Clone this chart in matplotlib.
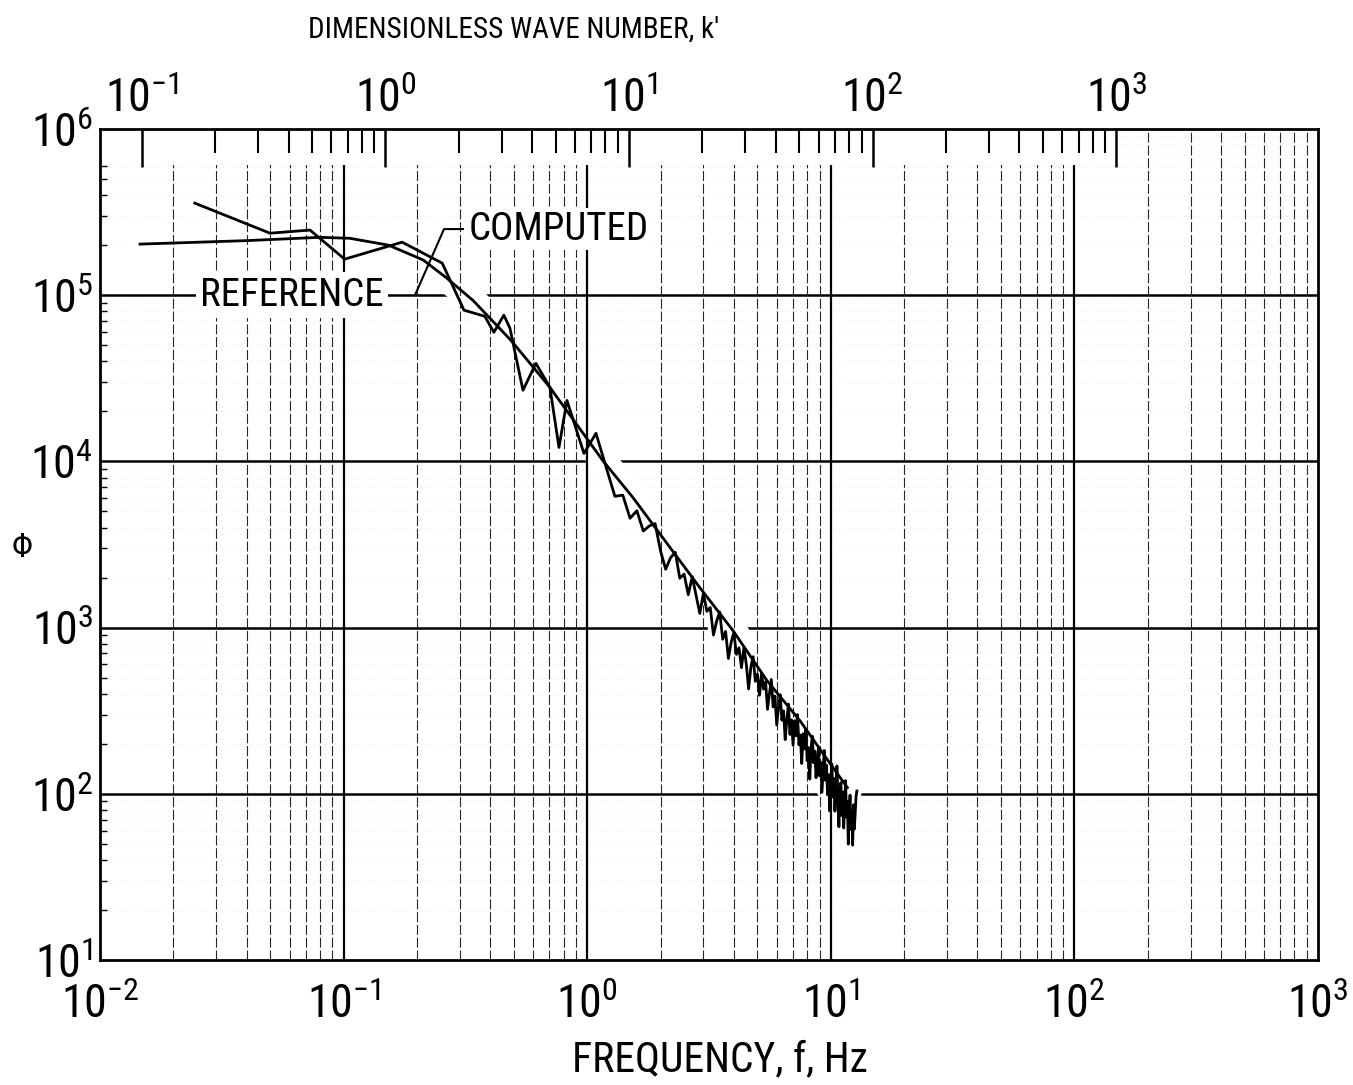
import numpy as np
import matplotlib
matplotlib.use("Agg")
import matplotlib.pyplot as plt
import matplotlib.transforms as mtransforms
from matplotlib.patches import Rectangle
from matplotlib.ticker import FixedLocator, LogFormatterMathtext, NullFormatter

plt.rcParams['font.family'] = ['Roboto Condensed', 'Roboto', 'DejaVu Sans']
plt.rcParams['mathtext.fontset'] = 'custom'
plt.rcParams['mathtext.rm'] = 'Roboto Condensed'
plt.rcParams['mathtext.it'] = 'Roboto Condensed:italic'
plt.rcParams['mathtext.bf'] = 'Roboto Condensed:bold'

# reference spectrum (smooth curve), f in Hz
ref_f = [0.0146, 0.04, 0.080, 0.106, 0.153, 0.212, 0.263, 0.340, 0.486,
         0.703, 1.16, 1.54, 2.90, 3.97, 5.47, 7.48, 10.2, 11.7]
ref_phi = [2.03e5, 2.13e5, 2.23e5, 2.20e5, 2.0e5, 1.63e5, 1.28e5, 9.3e4, 5.36e4,
           2.79e4, 1.01e4, 6.07e3, 1.74e3, 959, 480, 275, 144, 109]

# computed spectrum (noisy curve), frequencies and log10(phi)
comp_f = [0.0245, 0.0499, 0.0728, 0.101, 0.174, 0.254, 0.312, 0.380, 0.414,
          0.455, 0.482, 0.545, 0.616, 0.703, 0.766, 0.826, 0.970, 1.087,
          1.2, 1.3, 1.4, 1.5, 1.6, 1.7, 1.8, 1.9, 2.0, 2.1,
          2.2, 2.3, 2.4, 2.5, 2.6, 2.7, 2.8, 2.9, 3.0, 3.1,
          3.2, 3.3, 3.4, 3.5, 3.6, 3.7, 3.8, 3.9, 4.0, 4.1,
          4.2, 4.3, 4.4, 4.5, 4.6, 4.7, 4.8, 4.9, 5.0, 5.1,
          5.2, 5.3, 5.4, 5.5, 5.6, 5.7, 5.8, 5.9, 6.0, 6.1,
          6.2, 6.3, 6.4, 6.5, 6.6, 6.7, 6.8, 6.9, 7.0, 7.1,
          7.2, 7.3, 7.4, 7.5, 7.6, 7.7, 7.8, 7.9, 8.0, 8.1,
          8.2, 8.3, 8.4, 8.5, 8.6, 8.7, 8.8, 8.9, 9.0, 9.1,
          9.2, 9.3, 9.4, 9.5, 9.6, 9.7, 9.8, 9.9, 10.0, 10.1,
          10.2, 10.3, 10.4, 10.5, 10.6, 10.7, 10.8, 10.9, 11.0, 11.1,
          11.2, 11.3, 11.4, 11.5, 11.6, 11.7, 11.8, 11.9, 12.0, 12.1,
          12.2, 12.3, 12.4, 12.5, 12.6, 12.7, 12.8]
comp_log_phi = [5.554, 5.373, 5.392, 5.217, 5.319, 5.193, 4.910, 4.873, 4.777,
                4.880, 4.801, 4.428, 4.590, 4.446, 4.084, 4.367, 4.048, 4.169,
                3.958, 3.790, 3.797, 3.658, 3.703, 3.581, 3.612, 3.626, 3.462, 3.351,
                3.421, 3.453, 3.297, 3.322, 3.198, 3.306, 3.195, 3.085, 3.206, 3.098,
                3.121, 2.955, 3.039, 3.094, 2.930, 2.977, 2.814, 2.912, 2.970, 2.839,
                2.879, 2.759, 2.879, 2.780, 2.631, 2.763, 2.825, 2.677, 2.720, 2.593,
                2.726, 2.630, 2.674, 2.508, 2.603, 2.688, 2.523, 2.588, 2.414, 2.520,
                2.596, 2.443, 2.499, 2.326, 2.443, 2.540, 2.357, 2.445, 2.293, 2.440,
                2.349, 2.477, 2.295, 2.354, 2.182, 2.361, 2.270, 2.389, 2.199, 2.278,
                2.088, 2.277, 2.347, 2.187, 2.257, 2.097, 2.197, 2.278, 2.108, 2.189,
                2.009, 2.140, 2.261, 2.082, 2.173, 1.994, 2.115, 1.897, 2.068, 2.180,
                1.981, 2.093, 1.895, 2.046, 2.168, 1.970, 1.802, 2.005, 2.067, 1.869,
                2.011, 1.794, 1.946, 2.079, 1.861, 1.954, 1.697, 1.900, 1.992, 1.785,
                1.898, 1.691, 1.934, 1.788, 1.891, 1.984, 2.017]
comp_phi = 10.0 ** np.array(comp_log_phi)

# wave number scale: k' = K * f
K = 10 ** 0.828
k_major = [1e-1, 1e0, 1e1, 1e2, 1e3]
k_minor = [m * 10.0 ** n for n in range(-1, 3) for m in range(2, 10)]

fig = plt.figure(figsize=(13.53, 10.85), dpi=100)
ax = fig.add_axes([0.0739, 0.1152, 0.9002, 0.7659])
ax.set_xscale('log')
ax.set_yscale('log')
ax.set_xlim(1e-2, 1e3)
ax.set_ylim(1e1, 1e6)

# horizontal grid
for n in range(2, 6):
    ax.axhline(10.0 ** n, color='k', lw=1.8, zorder=1)
for n in range(1, 6):
    for m in range(2, 10):
        ax.axhline(m * 10.0 ** n, color='0.8', lw=0.5, ls=(0, (1, 6)), zorder=1)

# white halo: grid is broken where the curves cross it
ax.plot(ref_f, ref_phi, color='white', lw=20, solid_capstyle='round', zorder=1.5)
ax.plot(comp_f, comp_phi, color='white', lw=7, zorder=1.5)

# vertical grid
for n in range(-1, 3):
    ax.axvline(10.0 ** n, color='k', lw=1.6, zorder=2)
for n in range(-2, 3):
    for m in range(2, 10):
        ax.axvline(m * 10.0 ** n, color='0.15', lw=0.8, ls=(0, (9, 2.5)), zorder=2)

# blank strip under the k' scale
trans = mtransforms.blended_transform_factory(ax.transData, ax.transAxes)
strip_h = 36 / 831
ax.add_patch(Rectangle((1e-2, 1 - strip_h), 1e3 / K * 1.03 - 1e-2, strip_h,
                       transform=trans, fc='white', ec='none', zorder=2.5))

ax.plot(ref_f, ref_phi, color='k', lw=2.0, zorder=3)
ax.plot(comp_f, comp_phi, color='k', lw=2.0, zorder=3)

ax.text(0.0614, 1e5, 'REFERENCE', fontsize=28, ha='center', va='center',
        bbox=dict(fc='white', ec='none', pad=3), zorder=4)
ax.text(0.327, 2.5e5, 'COMPUTED', fontsize=28, ha='left', va='center',
        bbox=dict(fc='white', ec='none', pad=2), zorder=4)
ax.plot([0.1964, 0.2584, 0.309], [1e5, 2.5e5, 2.5e5], color='k', lw=1.5, zorder=4)

for s in ax.spines.values():
    s.set_linewidth(2)
    s.set_zorder(5)

ax.xaxis.set_major_formatter(LogFormatterMathtext())
ax.yaxis.set_major_formatter(LogFormatterMathtext())
ax.xaxis.set_minor_formatter(NullFormatter())
ax.yaxis.set_minor_formatter(NullFormatter())
ax.tick_params(axis='x', which='both', length=0, labelsize=33, pad=16)
ax.tick_params(axis='y', which='major', length=0, labelsize=33, pad=5)
ax.tick_params(axis='y', which='minor', direction='in', length=5, width=1)

secax = ax.secondary_xaxis('top', functions=(lambda f: f * K, lambda k: k / K))
secax.set_zorder(6)
secax.patch.set_visible(False)
secax.xaxis.set_major_locator(FixedLocator(k_major))
secax.xaxis.set_minor_locator(FixedLocator(k_minor))
secax.xaxis.set_major_formatter(LogFormatterMathtext())
secax.xaxis.set_minor_formatter(NullFormatter())
secax.tick_params(which='major', direction='in', length=27, width=1.8,
                  labelsize=33, pad=6)
secax.tick_params(which='minor', direction='in', length=17, width=1.5)
secax.spines['top'].set_visible(False)

fig.text(514 / 1353, 1 - 30 / 1085, "DIMENSIONLESS WAVE NUMBER, k'",
         fontsize=21, ha='center', va='center')
fig.text(720 / 1353, 1 - 1060 / 1085, 'FREQUENCY, f, Hz',
         fontsize=30, ha='center', va='center')
fig.text(22 / 1353, 1 - 548 / 1085, '\u03a6', fontsize=24, ha='center', va='center')

fig.savefig('out.png', dpi=100)
